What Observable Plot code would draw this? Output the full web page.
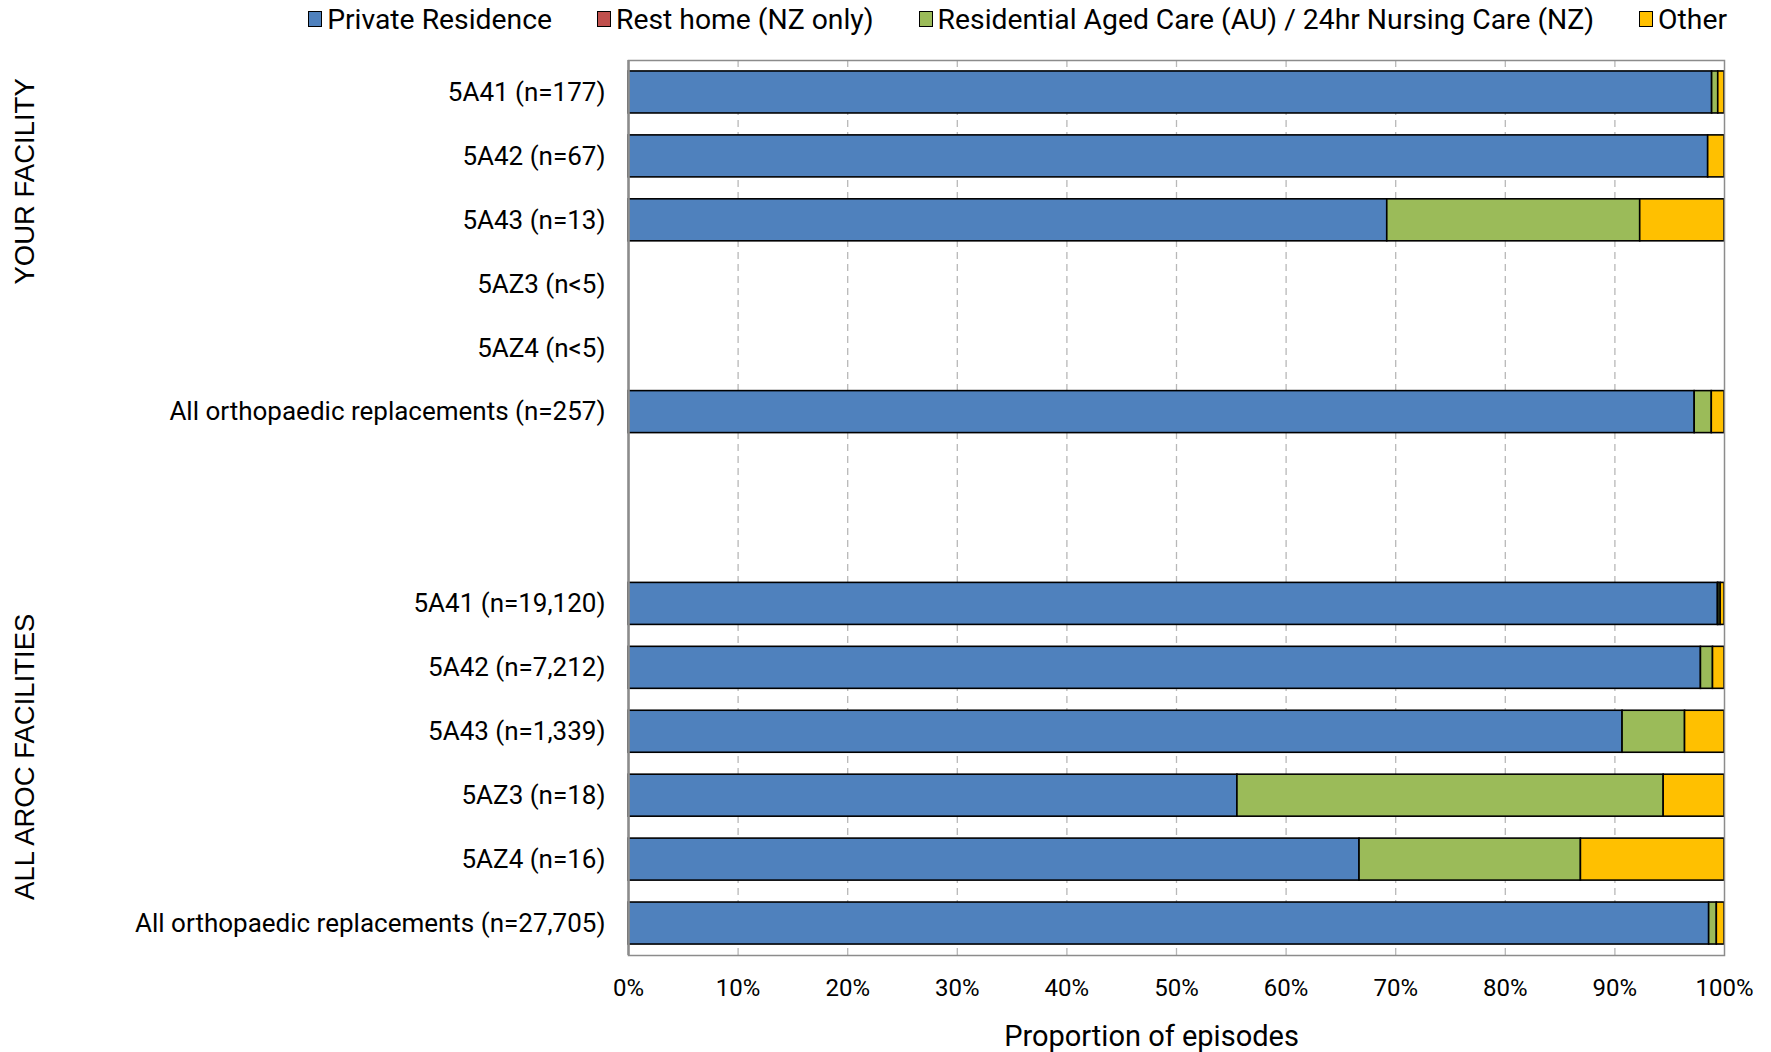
<!DOCTYPE html>
<html>
<head>
<meta charset="utf-8">
<script src="https://cdn.jsdelivr.net/npm/d3@7"></script>
<script src="https://cdn.jsdelivr.net/npm/@observablehq/plot@0.6"></script>
<style>
  html, body { margin: 0; padding: 0; background: #fff; }
  body { width: 1771px; height: 1052px; overflow: hidden; font-family: Roboto, "Noto Sans", sans-serif; }
  #legend { height: 38px; display: flex; justify-content: flex-end; align-items: center; padding-right: 44px; gap: 45px; font-size: 28.3px; color: #000; }
  #legend .item { display: flex; align-items: center; gap: 5px; white-space: nowrap; }
  #legend .sw { width: 14px; height: 16px; border: 1.5px solid #000; box-sizing: border-box; }
</style>
</head>
<body>
<div id="legend"></div>
<div id="chart"></div>
<script>
// ---- data ----
const categories = [
  "5A41 (n=177)", "5A42 (n=67)", "5A43 (n=13)", "5AZ3 (n<5)", "5AZ4 (n<5)",
  "All orthopaedic replacements (n=257)",
  "", "",
  "5A41 (n=19,120)", "5A42 (n=7,212)", "5A43 (n=1,339)", "5AZ3 (n=18)", "5AZ4 (n=16)",
  "All orthopaedic replacements (n=27,705)"
];
const groups = ["YOUR FACILITY", "ALL AROC FACILITIES"];
const groupRows = [1, 10];
const series = ["Private Residence", "Rest home (NZ only)", "Residential Aged Care (AU) / 24hr Nursing Care (NZ)", "Other"];
const colors = ["#4F81BD", "#C0504D", "#9BBB59", "#FFC000"];
// percentages per row (null = no bar)
const privateResidence = [98.87, 98.51, 69.23, null, null, 97.28, null, null, 99.40, 97.85, 90.70, 55.56, 66.70, 98.60];
const restHome         = [0,     0,     0,     null, null, 0,     null, null, 0.05,  0,     0,     0,     0,     0];
const residentialCare  = [0.56,  0,     23.08, null, null, 1.56,  null, null, 0.20,  1.10,  5.70,  38.89, 20.20, 0.70];
const otherDest        = [0.57,  1.49,  7.69,  null, null, 1.16,  null, null, 0.35,  1.05,  3.60,  5.55,  13.10, 0.70];
const xTicks = [0, 10, 20, 30, 40, 50, 60, 70, 80, 90, 100];
const xLabel = "Proportion of episodes";

// ---- build table ----
const seriesValues = [privateResidence, restHome, residentialCare, otherDest];
const table = [];
categories.forEach((c, i) => {
  series.forEach((s, j) => {
    const v = seriesValues[j][i];
    if (v != null && v > 0) table.push({row: i, series: s, value: v});
  });
});
const groupData = groups.map((g, k) => ({name: g, row: groupRows[k]}));

// ---- legend ----
const legend = d3.select("#legend");
series.forEach((s, j) => {
  const it = legend.append("div").attr("class", "item");
  it.append("div").attr("class", "sw").style("background", colors[j]);
  it.append("span").text(s);
});

// ---- chart ----
const chart = Plot.plot({
  width: 1771,
  height: 1014,
  marginLeft: 628,
  marginRight: 47,
  marginTop: 22,
  marginBottom: 97,
  style: {fontFamily: "Roboto, 'Noto Sans', sans-serif", fontSize: "25px", color: "#000", background: "#fff", overflow: "visible"},
  x: {domain: [0, 100], label: null},
  y: {domain: d3.range(categories.length), paddingInner: 0.343, paddingOuter: 0.1715, round: false, label: null},
  color: {domain: series, range: colors},
  marks: [
    Plot.ruleX(xTicks.slice(1, -1), {stroke: "#b8b8b8", strokeWidth: 1.3, strokeDasharray: "7,5"}),
    Plot.barX(table, Plot.stackX({x: "value", y: "row", fill: "series", order: series, stroke: "#000", strokeWidth: 1.6})),
    Plot.frame({stroke: "#8c8c8c", strokeWidth: 1.5}),
    Plot.ruleX([0], {stroke: "#8c8c8c", strokeWidth: 2.5}),
    Plot.axisX(xTicks, {tickSize: 0, tickPadding: 23, tickFormat: d => d + "%", label: null, fontSize: 24}),
    Plot.axisY(d3.range(categories.length), {tickSize: 0, tickPadding: 23, tickFormat: i => categories[i], label: null, fontSize: 26}),
    Plot.text([xLabel], {frameAnchor: "bottom", dy: 81, dx: -25, text: d => d, fontSize: 29, lineAnchor: "middle"}),
    Plot.text(groupData, {x: () => 0, y: "row", text: "name", rotate: -90, dx: -603, dy: 25, fontFamily: "'Liberation Sans', Arial, sans-serif", fontSize: 27.5, fill: "#000"})
  ]
});
document.getElementById("chart").appendChild(chart);
</script>
</body>
</html>
